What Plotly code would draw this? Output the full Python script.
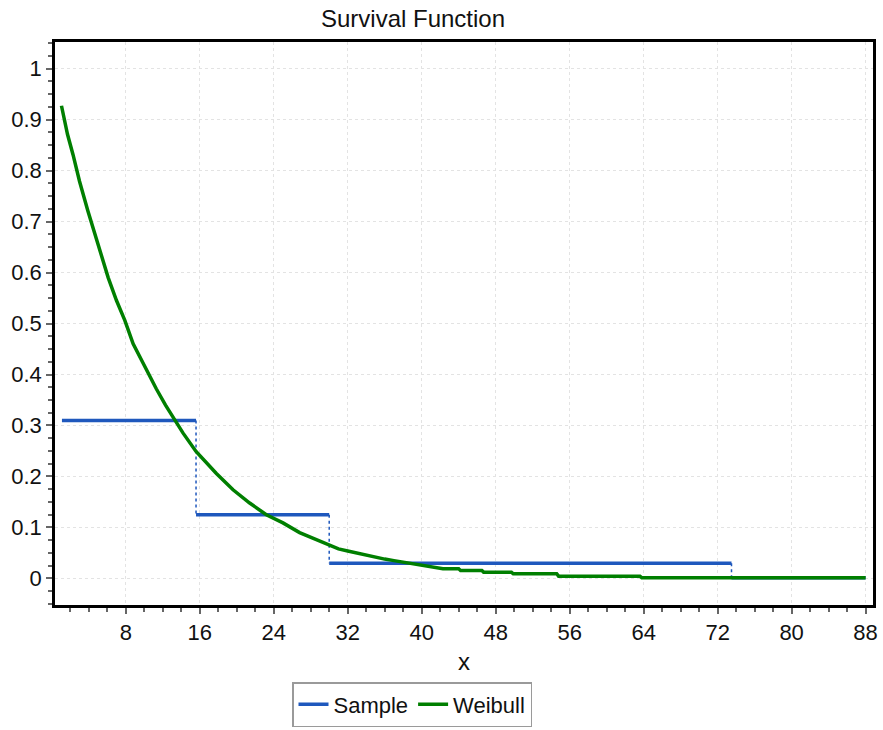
import plotly.graph_objects as go

# Sample (empirical survival) step function
sample_breaks = [1.1, 15.6, 30.0, 73.5, 88.0]
sample_vals = [0.31, 0.125, 0.03, 0.0015]

# Weibull survival curve
weibull_x = [1.05, 1.4, 1.7, 2.3, 3.0, 3.9, 5.0, 6.1, 7.0, 7.9, 8.8, 9.8, 10.6, 11.3,
             12.3, 13.3, 14.2, 15.6, 17.8, 19.6, 21.4, 23.2, 25.0, 26.8, 28.6, 30.0,
             31.0, 32.0, 33.0, 34.0, 35.0, 36.0, 37.0, 38.0, 39.0, 40.0, 41.0, 42.3,
             44.0, 44.2, 46.5, 46.7, 49.7, 49.9, 54.6, 54.8, 63.6, 63.8, 88.0]
weibull_y = [0.927, 0.896, 0.871, 0.831, 0.779, 0.721, 0.656, 0.590, 0.545, 0.506, 0.460,
             0.425, 0.395, 0.372, 0.340, 0.312, 0.285, 0.249, 0.206, 0.174, 0.148, 0.125,
             0.109, 0.090, 0.076, 0.066, 0.058, 0.054, 0.050, 0.045, 0.042, 0.038, 0.035,
             0.032, 0.029, 0.027, 0.0235, 0.019, 0.019, 0.0157, 0.0157, 0.0124, 0.0124,
             0.0092, 0.0092, 0.0046, 0.0046, 0.0013, 0.0013]

x_ticks = [8, 16, 24, 32, 40, 48, 56, 64, 72, 80, 88]
y_ticks = [0, 0.1, 0.2, 0.3, 0.4, 0.5, 0.6, 0.7, 0.8, 0.9, 1]

BLUE = "#1f58bd"
GREEN = "#007f00"

# horizontal segments
hx, hy = [], []
for i, v in enumerate(sample_vals):
    hx += [sample_breaks[i], sample_breaks[i + 1], None]
    hy += [v, v, None]
# vertical connectors
vx, vy = [], []
for i in range(1, len(sample_vals)):
    vx += [sample_breaks[i], sample_breaks[i], None]
    vy += [sample_vals[i - 1], sample_vals[i], None]

FONT = "Liberation Sans, Arial, sans-serif"
fig = go.Figure()
fig.add_trace(go.Scatter(x=vx, y=vy, mode="lines", showlegend=False,
                         line=dict(color=BLUE, width=1.5, dash="dot"), hoverinfo="skip"))
fig.add_trace(go.Scatter(x=hx, y=hy, mode="lines", name="Sample",
                         line=dict(color=BLUE, width=3.5)))
fig.add_trace(go.Scatter(x=weibull_x, y=weibull_y, mode="lines", name="Weibull",
                         line=dict(color=GREEN, width=3.5)))

fig.update_layout(
    width=883, height=730,
    margin=dict(l=55, r=10, t=42, b=125, autoexpand=False),
    paper_bgcolor="white", plot_bgcolor="white",
    font=dict(family=FONT, color="#111111", size=22),
    title=dict(text="Survival Function", x=413 / 883, xanchor="center",
               y=1 - 19 / 730, yanchor="middle", font=dict(size=24, family=FONT)),
    legend=dict(orientation="h", x=(412 - 55) / 818, xanchor="center",
                y=-(727 - 605) / 563, yanchor="bottom",
                bordercolor="#9a9a9a", borderwidth=1.5, font=dict(size=22, family=FONT),
                itemwidth=30, tracegroupgap=0),
    showlegend=True,
)
fig.update_xaxes(
    range=[0.35, 88.8], tickvals=x_ticks, ticktext=[str(t) for t in x_ticks],
    showline=True, linecolor="black", linewidth=2.5, mirror=True,
    ticks="outside", ticklen=6, tickwidth=2, tickcolor="#666666",
    minor=dict(dtick=2, tick0=0, ticks="outside", ticklen=4, tickwidth=1.5,
               tickcolor="#666666", showgrid=False),
    showgrid=True, gridcolor="#e3e3e3", griddash="dot", gridwidth=1.3,
    zeroline=False, automargin=False,
    title=dict(text="x", font=dict(size=24, family=FONT), standoff=10),
    tickfont=dict(size=22, family=FONT),
)
fig.update_yaxes(
    range=[-0.052, 1.052], tickvals=y_ticks,
    ticktext=[str(t) if t not in (0, 1) else str(int(t)) for t in y_ticks],
    showline=True, linecolor="black", linewidth=2.5, mirror=True,
    ticks="outside", ticklen=6, tickwidth=2, tickcolor="#666666",
    minor=dict(dtick=0.025, tick0=0, ticks="outside", ticklen=4, tickwidth=1.5,
               tickcolor="#666666", showgrid=False),
    showgrid=True, gridcolor="#e3e3e3", griddash="dot", gridwidth=1.3,
    zeroline=False, automargin=False,
    tickfont=dict(size=22, family=FONT),
)

fig.write_html("out.html")
